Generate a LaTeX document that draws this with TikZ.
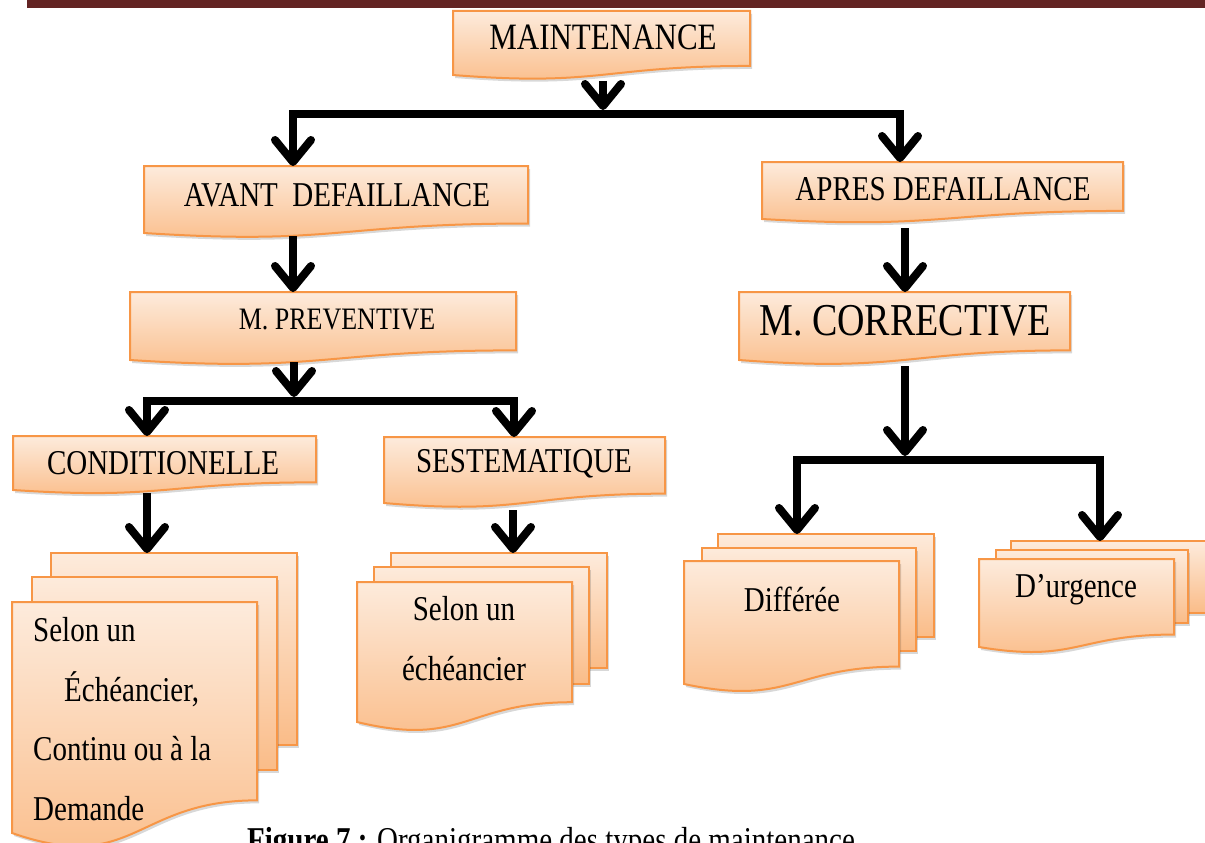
\documentclass[tikz,border=0pt]{standalone}
\usepackage{fontspec}
\usepackage{graphicx}
\setmainfont{Liberation Serif}
\usetikzlibrary{arrows.meta,shadows}
\definecolor{barcol}{RGB}{99,36,35}
\definecolor{ortop}{RGB}{253,235,220}
\definecolor{orbot}{RGB}{250,188,136}
\definecolor{orline}{RGB}{247,150,70}
\newcommand\tx[1]{\scalebox{1}[1.2]{#1}}
\tikzset{
  sheet/.style={draw=orline, line width=2pt, top color=ortop, bottom color=orbot,
    drop shadow={shadow xshift=2pt, shadow yshift=-3pt, opacity=0.22, fill=black!70}},
  rectnode/.style={inner sep=0pt, outer sep=0pt, anchor=north west},
  anchorbox/.style={rectnode, draw=none},
  lbl/.style={font=\fontsize{29}{34}\selectfont, inner sep=0pt},
  arr/.style={line width=8pt, -{Straight Barb[length=22pt,width=36pt,line width=8pt,round]}},
  barline/.style={line width=8pt},
}
\newcommand\docshape[5]{%
  \pgfmathsetmacro\dcH{(#5-#3)/0.934}%
  \pgfmathsetmacro\dcR{#3+0.802*\dcH}%
  \pgfmathsetmacro\dcC{#3+1.107*\dcH}%
  \pgfmathsetmacro\dcM{(#2+#4)/2}%
  \pgfmathsetmacro\dcW{#4-#2}%
  \pgfmathsetmacro\dcV{#5-#3}%
  \path[sheet] (#2,#3) -- (#4,#3) -- (#4,\dcR) .. controls (\dcM,\dcR) and (\dcM,\dcC) .. (#2,#5) -- cycle;
  \node[anchorbox, minimum width=\dcW pt, minimum height=\dcV pt] (#1) at (#2,#3) {};
}
\newcommand\rectsheet[5]{%
  \pgfmathsetmacro\dcW{#4-#2}%
  \pgfmathsetmacro\dcV{#5-#3}%
  \node[sheet, rectnode, minimum width=\dcW pt, minimum height=\dcV pt] (#1) at (#2,#3) {};
}
\begin{document}
\begin{tikzpicture}[x=1pt,y=-1pt]
\useasboundingbox (0,0) rectangle (1205,843);
\fill[barcol] (27,0) rectangle (1205,8);

% main boxes
\docshape{main}{453}{11}{750}{75}
\docshape{avant}{144}{166}{528}{233}
\docshape{apres}{762}{162}{1123}{219}
\docshape{prev}{130}{292}{516}{360}
\docshape{corr}{739}{292}{1070}{360}
\docshape{condi}{13}{436}{316}{490}
\docshape{sest}{384}{437}{665}{503}

% stacks
\rectsheet{Lback}{51}{553}{297}{745}
\rectsheet{Lmid}{32}{577}{277}{770}
\docshape{Lfront}{12}{602}{257}{833}

\rectsheet{Mback}{391}{553}{607}{668}
\rectsheet{Mmid}{374}{567}{589}{684}
\docshape{Mfront}{357}{582}{572}{722}

\rectsheet{Aback}{718}{534}{934}{637}
\rectsheet{Amid}{702}{548}{916}{651}
\docshape{Afront}{684}{561}{899}{684}

\rectsheet{Bback}{1011}{541}{1230}{613}
\rectsheet{Bmid}{996}{550}{1188}{623}
\docshape{Bfront}{979}{559}{1174}{647}

% labels
\node[lbl, font=\fontsize{31}{36}\selectfont] (main-t) at (603,37) {\tx{MAINTENANCE}};
\node[lbl] (avant-t) at (337,195) {\tx{AVANT\ \ DEFAILLANCE}};
\node[lbl] (apres-t) at (943,189) {\tx{APRES DEFAILLANCE}};
\node[lbl, font=\fontsize{26}{31}\selectfont] (prev-t) at (337,320) {\tx{M. PREVENTIVE}};
\node[lbl, font=\fontsize{38}{44}\selectfont] (corr-t) at (905,321) {\tx{M. CORRECTIVE}};
\node[lbl] (condi-t) at (163,463) {\tx{CONDITIONELLE}};
\node[lbl] (sest-t) at (524,464) {\tx{SESTEMATIQUE}};

\node[lbl, anchor=base west] (L1) at (33,641) {\tx{Selon un}};
\node[lbl, anchor=base west] (L2) at (64,701) {\tx{Échéancier,}};
\node[lbl, anchor=base west] (L3) at (33,760) {\tx{Continu ou à la}};
\node[lbl, anchor=base west] (L4) at (33,820) {\tx{Demande}};

\node[lbl, anchor=base] (M1) at (464,620) {\tx{Selon un}};
\node[lbl, anchor=base] (M2) at (464,680) {\tx{échéancier}};
\node[lbl, anchor=base] (A1) at (792,611) {\tx{Différée}};
\node[lbl, anchor=base] (B1) at (1076,597) {\tx{D’urgence}};

\node[lbl, anchor=base west] (cap) at (247,851) {\tx{\textbf{Figure 7 :} Organigramme des types de maintenance}};

% junction coordinates
\coordinate (t0) at (603,114);
\coordinate (tl) at (293,114);
\coordinate (tr) at (900,114);
\coordinate (xr) at (905,114);
\coordinate (m0) at (294,401);
\coordinate (ml) at (147,401);
\coordinate (mr) at (514,401);
\coordinate (mm) at (513,401);
\coordinate (r0) at (905,460);
\coordinate (rl) at (797,460);
\coordinate (rr) at (1100,460);

% connectors
\draw[barline] ([xshift=-4pt]tl) -- ([xshift=4pt]tr);
\draw[arr] ([yshift=-6pt]main.south -| t0) -- ([yshift=4pt]t0);
\draw[arr] (tl) -- (avant.north -| tl);
\draw[arr] (tr) -- (apres.north -| tr);
\draw[arr] ([yshift=-3pt]avant.south -| tl) -- (prev.north -| tl);
\draw[arr] ([yshift=-9pt]apres.south -| xr) -- (corr.north -| xr);

\draw[barline] ([xshift=-4pt]ml) -- ([xshift=4pt]mr);
\draw[arr] ([yshift=-2pt]prev.south -| m0) -- ([yshift=4pt]m0);
\draw[arr] (ml) -- (condi.north -| ml);
\draw[arr] (mr) -- (sest.north -| mr);

\draw[barline] ([xshift=-4pt]rl) -- ([xshift=4pt]rr);
\draw[arr] ([yshift=-6pt]corr.south -| r0) -- ([yshift=4pt]r0);
\draw[arr] (rl) -- (Aback.north -| rl);
\draw[arr] (rr) -- (Bback.north -| rr);

\draw[arr] ([yshift=-3pt]condi.south -| ml) -- (Lback.north -| ml);
\draw[arr] ([yshift=-7pt]sest.south -| mm) -- (Mback.north -| mm);
\end{tikzpicture}
\end{document}
